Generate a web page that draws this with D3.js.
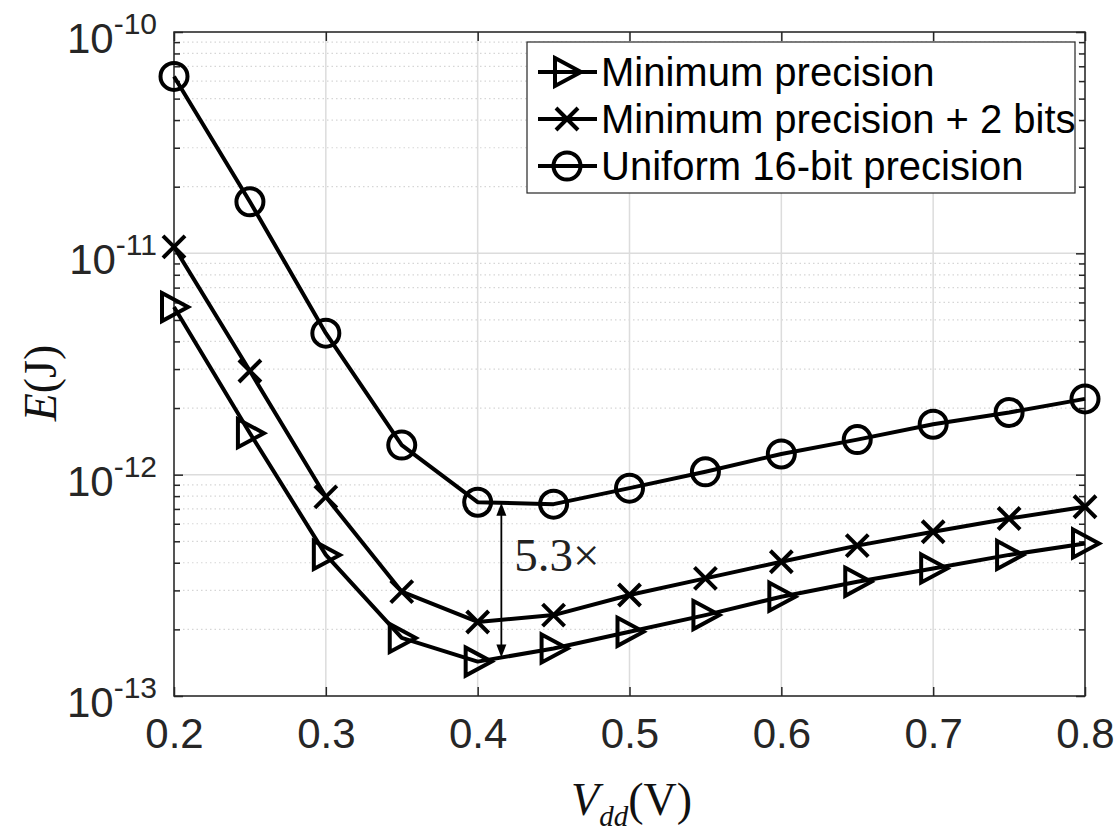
<!DOCTYPE html>
<html>
<head>
<meta charset="utf-8">
<script src="https://cdn.jsdelivr.net/npm/d3@7"></script>
<style>
  html, body { margin: 0; padding: 0; background: #fff; }
  svg { display: block; }
</style>
</head>
<body>
<svg id="chart" width="1119" height="834"></svg>
<script>
// Supply voltage sweep (V)
const vdd = [0.2, 0.25, 0.3, 0.35, 0.4, 0.45, 0.5, 0.55, 0.6, 0.65, 0.7, 0.75, 0.8];

// Energy per operation (J) for each precision scheme
const minPrecision = [5.72e-12, 1.54e-12, 4.34e-13, 1.83e-13, 1.43e-13, 1.64e-13, 1.95e-13,
                      2.32e-13, 2.81e-13, 3.28e-13, 3.77e-13, 4.34e-13, 4.89e-13];
const minPrecisionPlus2 = [1.07e-11, 2.94e-12, 7.94e-13, 2.96e-13, 2.16e-13, 2.32e-13, 2.86e-13,
                           3.40e-13, 4.04e-13, 4.78e-13, 5.52e-13, 6.34e-13, 7.16e-13];
const uniform16 = [6.3e-11, 1.71e-11, 4.36e-12, 1.36e-12, 7.51e-13, 7.36e-13, 8.69e-13,
                   1.03e-12, 1.24e-12, 1.44e-12, 1.69e-12, 1.91e-12, 2.2e-12];

const seriesNames = ["Minimum precision", "Minimum precision + 2 bits", "Uniform 16-bit precision"];
const seriesMarkers = ["triangle", "cross", "circle"];

const xTicks = [0.2, 0.3, 0.4, 0.5, 0.6, 0.7, 0.8];
const xTickLabels = ["0.2", "0.3", "0.4", "0.5", "0.6", "0.7", "0.8"];
const yDecades = [-13, -12, -11, -10];

// Annotation: gap between the uniform and minimum-precision curves
const gapX = 0.4156;
const gapLabel = "5.3\u00D7";

const series = seriesNames.map((name, i) => ({
  name,
  marker: seriesMarkers[i],
  values: [minPrecision, minPrecisionPlus2, uniform16][i]
}));

const svg = d3.select("#chart");
const L = 174, R = 1085, T = 32, B = 696;
const axisColor = "#262626";
const SW = 4;

const x = d3.scaleLinear().domain([0.2, 0.8]).range([L, R]);
const y = d3.scaleLog().domain([1e-13, 1e-10]).range([B, T]);

// Minor (2..9) log positions
const minorVals = [];
yDecades.slice(0, -1).forEach(d => {
  for (let k = 2; k <= 9; k++) minorVals.push(k * Math.pow(10, d));
});

// Grid
const grid = svg.append("g");
grid.selectAll(".ymin").data(minorVals).join("line")
  .attr("x1", L).attr("x2", R)
  .attr("y1", d => y(d)).attr("y2", d => y(d))
  .attr("stroke", "#d6d6d6").attr("stroke-width", 1.2)
  .attr("stroke-dasharray", "1.5,3");
grid.selectAll(".ymaj").data(yDecades).join("line")
  .attr("x1", L).attr("x2", R)
  .attr("y1", d => y(Math.pow(10, d))).attr("y2", d => y(Math.pow(10, d)))
  .attr("stroke", "#dcdcdc").attr("stroke-width", 1.5);
grid.selectAll(".xmaj").data(xTicks).join("line")
  .attr("x1", d => x(d)).attr("x2", d => x(d))
  .attr("y1", T).attr("y2", B)
  .attr("stroke", "#dcdcdc").attr("stroke-width", 1.5);

// Axes via d3 axis generators, ticks pointing inward
const fontSans = "'Liberation Sans', Arial, Helvetica, sans-serif";
const fontSerif = "'Liberation Serif', 'Times New Roman', serif";

function styleAxis(g) {
  g.select(".domain").remove();
  g.selectAll("line").attr("stroke", axisColor).attr("stroke-width", 1.5);
}

svg.append("g").attr("transform", `translate(0,${B})`)
  .call(d3.axisBottom(x).tickValues(xTicks).tickSizeInner(-9).tickSizeOuter(0).tickFormat((d, i) => xTickLabels[i]).tickPadding(22))
  .call(styleAxis)
  .call(g => g.selectAll("text").attr("fill", axisColor).attr("font-family", fontSans).attr("font-size", 42).attr("dy", "0.71em"));

svg.append("g").attr("transform", `translate(0,${T})`)
  .call(d3.axisTop(x).tickValues(xTicks).tickSizeInner(-9).tickSizeOuter(0).tickFormat(""))
  .call(styleAxis);

const yMajorVals = yDecades.map(d => Math.pow(10, d));
svg.append("g").attr("transform", `translate(${L},0)`)
  .call(d3.axisLeft(y).tickValues(yMajorVals).tickSizeInner(-9).tickSizeOuter(0).tickFormat(""))
  .call(styleAxis);
svg.append("g").attr("transform", `translate(${L},0)`)
  .call(d3.axisLeft(y).tickValues(minorVals).tickSizeInner(-6).tickSizeOuter(0).tickFormat(""))
  .call(styleAxis);
svg.append("g").attr("transform", `translate(${R},0)`)
  .call(d3.axisRight(y).tickValues(yMajorVals).tickSizeInner(-9).tickSizeOuter(0).tickFormat(""))
  .call(styleAxis);
svg.append("g").attr("transform", `translate(${R},0)`)
  .call(d3.axisRight(y).tickValues(minorVals).tickSizeInner(-6).tickSizeOuter(0).tickFormat(""))
  .call(styleAxis);

// Plot box
svg.append("rect").attr("x", L).attr("y", T).attr("width", R - L).attr("height", B - T)
  .attr("fill", "none").attr("stroke", axisColor).attr("stroke-width", 1.5);

// Y tick labels: 10^n
const ylab = svg.append("g");
yDecades.forEach(d => {
  const t = ylab.append("text")
    .attr("x", 157).attr("y", y(Math.pow(10, d)) + 21)
    .attr("text-anchor", "end")
    .attr("fill", axisColor)
    .attr("font-family", fontSans);
  t.append("tspan").attr("font-size", 42).text("10");
  t.append("tspan").attr("font-size", 30).attr("dy", -19).text(String(d));
});

// Axis titles
const xt = svg.append("text")
  .attr("x", (L + R) / 2 + 2).attr("y", 815)
  .attr("text-anchor", "middle")
  .attr("font-family", fontSerif).attr("font-size", 46).attr("fill", "#111");
xt.append("tspan").attr("font-style", "italic").text("V");
xt.append("tspan").attr("font-style", "italic").attr("font-size", 29).attr("dy", 11).text("dd");
xt.append("tspan").attr("dy", -11).text("(V)");

const yt = svg.append("text")
  .attr("transform", `translate(56,${383}) rotate(-90)`)
  .attr("text-anchor", "middle")
  .attr("font-family", fontSerif).attr("font-size", 46).attr("fill", "#111");
yt.append("tspan").attr("font-style", "italic").text("E");
yt.append("tspan").text("(J)");

// Marker shapes
function drawMarker(g, type, cx, cy) {
  const s = 13;
  if (type === "circle") {
    g.append("circle").attr("cx", cx).attr("cy", cy).attr("r", 13.5)
      .attr("fill", "none").attr("stroke", "#000").attr("stroke-width", SW);
  } else if (type === "cross") {
    g.append("path")
      .attr("d", `M${cx - 11},${cy - 11}L${cx + 11},${cy + 11}M${cx - 11},${cy + 11}L${cx + 11},${cy - 11}`)
      .attr("fill", "none").attr("stroke", "#000").attr("stroke-width", SW);
  } else {
    g.append("path")
      .attr("d", `M${cx - s + 1},${cy - s - 1}L${cx + s + 1},${cy}L${cx - s + 1},${cy + s + 1}Z`)
      .attr("fill", "none").attr("stroke", "#000").attr("stroke-width", SW)
      .attr("stroke-linejoin", "miter");
  }
}

// Series lines and markers
const line = d3.line().x(d => x(d[0])).y(d => y(d[1]));
const plot = svg.append("g");
series.forEach(s => {
  const pts = vdd.map((v, i) => [v, s.values[i]]);
  plot.append("path").attr("d", line(pts))
    .attr("fill", "none").attr("stroke", "#000").attr("stroke-width", SW)
    .attr("stroke-linejoin", "round");
  const mg = plot.append("g");
  pts.forEach(p => drawMarker(mg, s.marker, x(p[0]), y(p[1])));
});

// Gap annotation: double-headed arrow between the two curves
function interpAt(values, xv) {
  const i = d3.bisectRight(vdd, xv) - 1;
  const t = (xv - vdd[i]) / (vdd[i + 1] - vdd[i]);
  const a = Math.log10(values[i]), b = Math.log10(values[i + 1]);
  return Math.pow(10, a + t * (b - a));
}
const ax = x(gapX);
const yTop = y(interpAt(uniform16, gapX));
const yBot = y(interpAt(minPrecision, gapX));
const ann = svg.append("g");
ann.append("line").attr("x1", ax).attr("x2", ax).attr("y1", yTop + 8).attr("y2", yBot - 8)
  .attr("stroke", "#000").attr("stroke-width", 1.8);
ann.append("path").attr("d", `M${ax},${yTop}L${ax - 5},${yTop + 13}L${ax + 5},${yTop + 13}Z`).attr("fill", "#000");
ann.append("path").attr("d", `M${ax},${yBot}L${ax - 5},${yBot - 13}L${ax + 5},${yBot - 13}Z`).attr("fill", "#000");
ann.append("text").attr("x", ax + 13).attr("y", 571)
  .attr("font-family", fontSerif).attr("font-size", 47).attr("fill", "#222")
  .text(gapLabel);

// Legend
const lg = svg.append("g");
lg.append("rect").attr("x", 527).attr("y", 42).attr("width", 548).attr("height", 151)
  .attr("fill", "#fff").attr("stroke", axisColor).attr("stroke-width", 1.2);
const rowY = [72, 119, 166];
series.forEach((s, i) => {
  const cy = rowY[i];
  lg.append("line").attr("x1", 538).attr("x2", 597).attr("y1", cy).attr("y2", cy)
    .attr("stroke", "#000").attr("stroke-width", SW);
  drawMarker(lg, s.marker, 567, cy);
  lg.append("text").attr("x", 601).attr("y", cy + 14)
    .attr("font-family", fontSans).attr("font-size", 40).attr("fill", "#000")
    .text(s.name);
});
</script>
</body>
</html>
